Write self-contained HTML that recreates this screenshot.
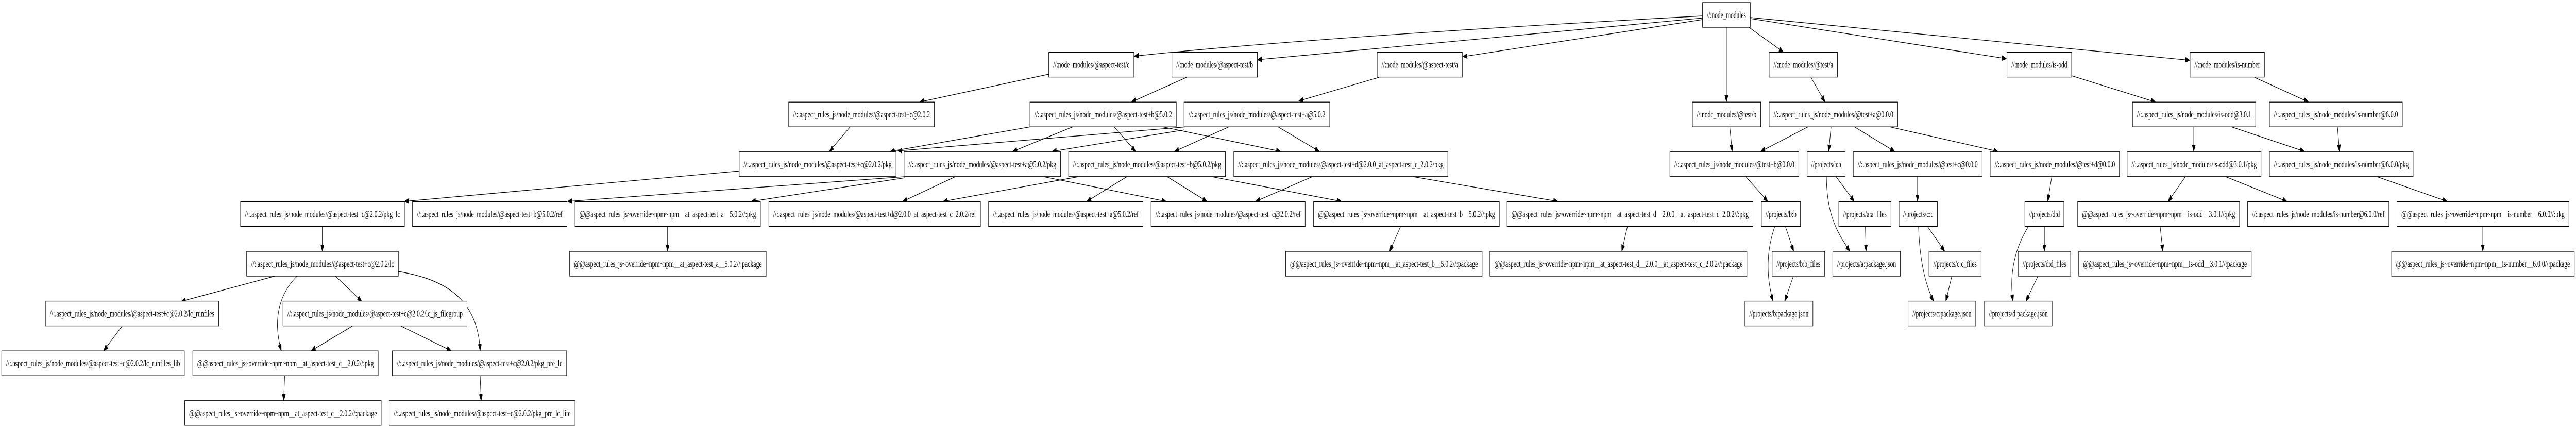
<!DOCTYPE html>
<html><head><meta charset="utf-8"><style>
html,body{margin:0;padding:0;background:#fff;overflow:hidden;width:100%;height:100%;}
svg{display:block;width:100vw;height:100vh;}
text{font-family:"Liberation Serif",serif;font-size:18px;fill:#000;}
rect{fill:#fff;stroke:#000;stroke-width:1.3;}
path,line{stroke:#000;stroke-width:1.3;fill:none;}
</style></head><body>
<svg viewBox="0 0 7656 827" preserveAspectRatio="none" xmlns="http://www.w3.org/2000/svg">
<defs><marker id="a" markerUnits="userSpaceOnUse" markerWidth="14" markerHeight="10" refX="13" refY="5" orient="auto"><path d="M0,0 L13,5 L0,10 Z" style="fill:#000;stroke:#000;stroke-width:1"/></marker></defs>
<g marker-end="url(#a)">
<path d="M5060,31 Q3900,72 3371,109"/>
<line x1="5060" y1="35" x2="3737" y2="116"/>
<line x1="5060" y1="38" x2="4348" y2="110"/>
<line x1="5131" y1="53" x2="5131" y2="198"/>
<line x1="5198" y1="53" x2="5300" y2="101"/>
<line x1="5202" y1="36" x2="5963" y2="114"/>
<line x1="5202" y1="34" x2="6508" y2="117"/>
<line x1="3117" y1="144" x2="2733" y2="198"/>
<line x1="3527" y1="150" x2="3363" y2="198"/>
<line x1="4099" y1="150" x2="3860" y2="196"/>
<line x1="2527" y1="246" x2="2465" y2="294"/>
<line x1="3064" y1="246" x2="2646" y2="294"/>
<line x1="3189" y1="246" x2="3010" y2="294"/>
<line x1="3311" y1="246" x2="3375" y2="294"/>
<line x1="3454" y1="246" x2="3806" y2="294"/>
<line x1="3529" y1="246" x2="2668" y2="293"/>
<line x1="3520" y1="252" x2="3127" y2="294"/>
<line x1="3653" y1="246" x2="3491" y2="294"/>
<line x1="3798" y1="246" x2="3921" y2="294"/>
<line x1="2197" y1="332" x2="1202" y2="391"/>
<line x1="2687" y1="343" x2="1687" y2="391"/>
<line x1="2690" y1="345" x2="2233" y2="391"/>
<line x1="2839" y1="343" x2="2683" y2="391"/>
<line x1="3102" y1="343" x2="3466" y2="391"/>
<line x1="3205" y1="343" x2="2803" y2="391"/>
<line x1="3349" y1="343" x2="3230" y2="391"/>
<line x1="3469" y1="343" x2="3587" y2="391"/>
<line x1="3602" y1="343" x2="3987" y2="391"/>
<line x1="3900" y1="343" x2="3732" y2="391"/>
<line x1="4200" y1="343" x2="4630" y2="391"/>
<line x1="5141" y1="246" x2="5148" y2="294"/>
<line x1="5189" y1="343" x2="5254" y2="391"/>
<line x1="5382" y1="150" x2="5424" y2="198"/>
<line x1="5374" y1="246" x2="5233" y2="294"/>
<line x1="5442" y1="246" x2="5435" y2="294"/>
<line x1="5511" y1="246" x2="5631" y2="294"/>
<line x1="5615" y1="246" x2="5938" y2="294"/>
<line x1="6157" y1="147" x2="6406" y2="198"/>
<line x1="6700" y1="150" x2="6861" y2="198"/>
<line x1="6520" y1="246" x2="6520" y2="294"/>
<line x1="6631" y1="246" x2="6849" y2="294"/>
<line x1="6947" y1="246" x2="6953" y2="294"/>
<line x1="5457" y1="343" x2="5511" y2="391"/>
<path d="M5428,343 C5430,420 5460,450 5498,488"/>
<line x1="5699" y1="343" x2="5699" y2="391"/>
<line x1="6098" y1="343" x2="6086" y2="391"/>
<line x1="6495" y1="343" x2="6444" y2="391"/>
<line x1="6615" y1="343" x2="6797" y2="391"/>
<line x1="7065" y1="343" x2="7273" y2="391"/>
<line x1="5306" y1="439" x2="5331" y2="488"/>
<path d="M5275,439 C5248,490 5250,540 5270,585"/>
<line x1="5544" y1="439" x2="5546" y2="488"/>
<line x1="5728" y1="439" x2="5780" y2="488"/>
<path d="M5702,439 C5705,500 5720,550 5747,585"/>
<line x1="6076" y1="439" x2="6076" y2="488"/>
<path d="M6029,439 C5990,480 5970,530 5983,585"/>
<line x1="5330" y1="536" x2="5304" y2="585"/>
<line x1="5801" y1="536" x2="5783" y2="585"/>
<line x1="6057" y1="536" x2="6021" y2="585"/>
<line x1="6420" y1="439" x2="6428" y2="488"/>
<line x1="7379" y1="439" x2="7379" y2="488"/>
<line x1="1984" y1="439" x2="1984" y2="488"/>
<line x1="4163" y1="439" x2="4130" y2="488"/>
<line x1="4837" y1="439" x2="4820" y2="488"/>
<line x1="958" y1="439" x2="958" y2="488"/>
<line x1="817" y1="536" x2="539" y2="585"/>
<path d="M883,536 C830,570 810,620 836,681"/>
<line x1="997" y1="536" x2="1075" y2="585"/>
<path d="M1184,527 C1300,540 1420,570 1427,681"/>
<line x1="363" y1="633" x2="308" y2="681"/>
<line x1="1047" y1="633" x2="925" y2="681"/>
<line x1="1192" y1="633" x2="1341" y2="681"/>
<line x1="846" y1="729" x2="843" y2="778"/>
<line x1="1427" y1="729" x2="1430" y2="778"/>
</g>
<g text-anchor="middle">
<rect x="5060" y="5" width="142" height="48"/><text x="5131" y="35" textLength="116" lengthAdjust="spacingAndGlyphs">//:node_modules</text>
<rect x="3117" y="101.6" width="253" height="48"/><text x="3243.5" y="131.6" textLength="227" lengthAdjust="spacingAndGlyphs">//:node_modules/@aspect-test/c</text>
<rect x="3483" y="101.6" width="254" height="48"/><text x="3610" y="131.6" textLength="228" lengthAdjust="spacingAndGlyphs">//:node_modules/@aspect-test/b</text>
<rect x="4093" y="101.6" width="253" height="48"/><text x="4219.5" y="131.6" textLength="227" lengthAdjust="spacingAndGlyphs">//:node_modules/@aspect-test/a</text>
<rect x="5258" y="101.6" width="203" height="48"/><text x="5359.5" y="131.6" textLength="177" lengthAdjust="spacingAndGlyphs">//:node_modules/@test/a</text>
<rect x="5965" y="101.6" width="192" height="48"/><text x="6061" y="131.6" textLength="166" lengthAdjust="spacingAndGlyphs">//:node_modules/is-odd</text>
<rect x="6509" y="101.6" width="221" height="48"/><text x="6619.5" y="131.6" textLength="195" lengthAdjust="spacingAndGlyphs">//:node_modules/is-number</text>
<rect x="2344" y="198.2" width="433" height="48"/><text x="2560.5" y="228.2" textLength="407" lengthAdjust="spacingAndGlyphs">//:.aspect_rules_js/node_modules/@aspect-test+c@2.0.2</text>
<rect x="3061" y="198.2" width="435" height="48"/><text x="3278.5" y="228.2" textLength="409" lengthAdjust="spacingAndGlyphs">//:.aspect_rules_js/node_modules/@aspect-test+b@5.0.2</text>
<rect x="3519" y="198.2" width="433" height="48"/><text x="3735.5" y="228.2" textLength="407" lengthAdjust="spacingAndGlyphs">//:.aspect_rules_js/node_modules/@aspect-test+a@5.0.2</text>
<rect x="5030" y="198.2" width="203" height="48"/><text x="5131.5" y="228.2" textLength="177" lengthAdjust="spacingAndGlyphs">//:node_modules/@test/b</text>
<rect x="5258" y="198.2" width="382" height="48"/><text x="5449" y="228.2" textLength="356" lengthAdjust="spacingAndGlyphs">//:.aspect_rules_js/node_modules/@test+a@0.0.0</text>
<rect x="6338" y="198.2" width="366" height="48"/><text x="6521" y="228.2" textLength="340" lengthAdjust="spacingAndGlyphs">//:.aspect_rules_js/node_modules/is-odd@3.0.1</text>
<rect x="6745" y="198.2" width="395" height="48"/><text x="6942.5" y="228.2" textLength="369" lengthAdjust="spacingAndGlyphs">//:.aspect_rules_js/node_modules/is-number@6.0.0</text>
<rect x="2197" y="294.8" width="466" height="48"/><text x="2430" y="324.8" textLength="440" lengthAdjust="spacingAndGlyphs">//:.aspect_rules_js/node_modules/@aspect-test+c@2.0.2/pkg</text>
<rect x="2687" y="294.8" width="465" height="48"/><text x="2919.5" y="324.8" textLength="439" lengthAdjust="spacingAndGlyphs">//:.aspect_rules_js/node_modules/@aspect-test+a@5.0.2/pkg</text>
<rect x="3176" y="294.8" width="466" height="48"/><text x="3409" y="324.8" textLength="440" lengthAdjust="spacingAndGlyphs">//:.aspect_rules_js/node_modules/@aspect-test+b@5.0.2/pkg</text>
<rect x="3667" y="294.8" width="636" height="48"/><text x="3985" y="324.8" textLength="610" lengthAdjust="spacingAndGlyphs">//:.aspect_rules_js/node_modules/@aspect-test+d@2.0.0_at_aspect-test_c_2.0.2/pkg</text>
<rect x="4963" y="294.8" width="383" height="48"/><text x="5154.5" y="324.8" textLength="357" lengthAdjust="spacingAndGlyphs">//:.aspect_rules_js/node_modules/@test+b@0.0.0</text>
<rect x="5371" y="294.8" width="113" height="48"/><text x="5427.5" y="324.8" textLength="89" lengthAdjust="spacingAndGlyphs">//projects/a:a</text>
<rect x="5508" y="294.8" width="383" height="48"/><text x="5699.5" y="324.8" textLength="357" lengthAdjust="spacingAndGlyphs">//:.aspect_rules_js/node_modules/@test+c@0.0.0</text>
<rect x="5915" y="294.8" width="384" height="48"/><text x="6107" y="324.8" textLength="358" lengthAdjust="spacingAndGlyphs">//:.aspect_rules_js/node_modules/@test+d@0.0.0</text>
<rect x="6322" y="294.8" width="398" height="48"/><text x="6521" y="324.8" textLength="372" lengthAdjust="spacingAndGlyphs">//:.aspect_rules_js/node_modules/is-odd@3.0.1/pkg</text>
<rect x="6745" y="294.8" width="427" height="48"/><text x="6958.5" y="324.8" textLength="401" lengthAdjust="spacingAndGlyphs">//:.aspect_rules_js/node_modules/is-number@6.0.0/pkg</text>
<rect x="715" y="391.4" width="487" height="48"/><text x="958.5" y="421.4" textLength="461" lengthAdjust="spacingAndGlyphs">//:.aspect_rules_js/node_modules/@aspect-test+c@2.0.2/pkg_lc</text>
<rect x="1226" y="391.4" width="459" height="48"/><text x="1455.5" y="421.4" textLength="433" lengthAdjust="spacingAndGlyphs">//:.aspect_rules_js/node_modules/@aspect-test+b@5.0.2/ref</text>
<rect x="1709" y="391.4" width="551" height="48"/><text x="1984.5" y="421.4" textLength="525" lengthAdjust="spacingAndGlyphs">@@aspect_rules_js~override~npm~npm__at_aspect-test_a__5.0.2//:pkg</text>
<rect x="2285" y="391.4" width="629" height="48"/><text x="2599.5" y="421.4" textLength="603" lengthAdjust="spacingAndGlyphs">//:.aspect_rules_js/node_modules/@aspect-test+d@2.0.0_at_aspect-test_c_2.0.2/ref</text>
<rect x="2938" y="391.4" width="459" height="48"/><text x="3167.5" y="421.4" textLength="433" lengthAdjust="spacingAndGlyphs">//:.aspect_rules_js/node_modules/@aspect-test+a@5.0.2/ref</text>
<rect x="3421" y="391.4" width="458" height="48"/><text x="3650" y="421.4" textLength="432" lengthAdjust="spacingAndGlyphs">//:.aspect_rules_js/node_modules/@aspect-test+c@2.0.2/ref</text>
<rect x="3904" y="391.4" width="552" height="48"/><text x="4180" y="421.4" textLength="526" lengthAdjust="spacingAndGlyphs">@@aspect_rules_js~override~npm~npm__at_aspect-test_b__5.0.2//:pkg</text>
<rect x="4479" y="391.4" width="731" height="48"/><text x="4844.5" y="421.4" textLength="705" lengthAdjust="spacingAndGlyphs">@@aspect_rules_js~override~npm~npm__at_aspect-test_d__2.0.0__at_aspect-test_c_2.0.2//:pkg</text>
<rect x="5235" y="391.4" width="116" height="48"/><text x="5293" y="421.4" textLength="92" lengthAdjust="spacingAndGlyphs">//projects/b:b</text>
<rect x="5465" y="391.4" width="155" height="48"/><text x="5542.5" y="421.4" textLength="129" lengthAdjust="spacingAndGlyphs">//projects/a:a_files</text>
<rect x="5644" y="391.4" width="114" height="48"/><text x="5701" y="421.4" textLength="90" lengthAdjust="spacingAndGlyphs">//projects/c:c</text>
<rect x="6018" y="391.4" width="116" height="48"/><text x="6076" y="421.4" textLength="92" lengthAdjust="spacingAndGlyphs">//projects/d:d</text>
<rect x="6175" y="391.4" width="481" height="48"/><text x="6415.5" y="421.4" textLength="455" lengthAdjust="spacingAndGlyphs">@@aspect_rules_js~override~npm~npm__is-odd__3.0.1//:pkg</text>
<rect x="6680" y="391.4" width="420" height="48"/><text x="6890" y="421.4" textLength="394" lengthAdjust="spacingAndGlyphs">//:.aspect_rules_js/node_modules/is-number@6.0.0/ref</text>
<rect x="7124" y="391.4" width="511" height="48"/><text x="7379.5" y="421.4" textLength="485" lengthAdjust="spacingAndGlyphs">@@aspect_rules_js~override~npm~npm__is-number__6.0.0//:pkg</text>
<rect x="733" y="488" width="451" height="48"/><text x="958.5" y="518" textLength="425" lengthAdjust="spacingAndGlyphs">//:.aspect_rules_js/node_modules/@aspect-test+c@2.0.2/lc</text>
<rect x="1693" y="488" width="584" height="48"/><text x="1985" y="518" textLength="558" lengthAdjust="spacingAndGlyphs">@@aspect_rules_js~override~npm~npm__at_aspect-test_a__5.0.2//:package</text>
<rect x="3821" y="488" width="584" height="48"/><text x="4113" y="518" textLength="558" lengthAdjust="spacingAndGlyphs">@@aspect_rules_js~override~npm~npm__at_aspect-test_b__5.0.2//:package</text>
<rect x="4428" y="488" width="764" height="48"/><text x="4810" y="518" textLength="738" lengthAdjust="spacingAndGlyphs">@@aspect_rules_js~override~npm~npm__at_aspect-test_d__2.0.0__at_aspect-test_c_2.0.2//:package</text>
<rect x="5267" y="488" width="156" height="48"/><text x="5345" y="518" textLength="130" lengthAdjust="spacingAndGlyphs">//projects/b:b_files</text>
<rect x="5447" y="488" width="201" height="48"/><text x="5547.5" y="518" textLength="175" lengthAdjust="spacingAndGlyphs">//projects/a:package.json</text>
<rect x="5733" y="488" width="155" height="48"/><text x="5810.5" y="518" textLength="129" lengthAdjust="spacingAndGlyphs">//projects/c:c_files</text>
<rect x="5998" y="488" width="156" height="48"/><text x="6076" y="518" textLength="130" lengthAdjust="spacingAndGlyphs">//projects/d:d_files</text>
<rect x="6178" y="488" width="513" height="48"/><text x="6434.5" y="518" textLength="487" lengthAdjust="spacingAndGlyphs">@@aspect_rules_js~override~npm~npm__is-odd__3.0.1//:package</text>
<rect x="7108" y="488" width="543" height="48"/><text x="7379.5" y="518" textLength="517" lengthAdjust="spacingAndGlyphs">@@aspect_rules_js~override~npm~npm__is-number__6.0.0//:package</text>
<rect x="135" y="584.6" width="515" height="48"/><text x="392.5" y="614.6" textLength="489" lengthAdjust="spacingAndGlyphs">//:.aspect_rules_js/node_modules/@aspect-test+c@2.0.2/lc_runfiles</text>
<rect x="841" y="584.6" width="547" height="48"/><text x="1114.5" y="614.6" textLength="521" lengthAdjust="spacingAndGlyphs">//:.aspect_rules_js/node_modules/@aspect-test+c@2.0.2/lc_js_filegroup</text>
<rect x="5186" y="584.6" width="202" height="48"/><text x="5287" y="614.6" textLength="176" lengthAdjust="spacingAndGlyphs">//projects/b:package.json</text>
<rect x="5671" y="584.6" width="201" height="48"/><text x="5771.5" y="614.6" textLength="175" lengthAdjust="spacingAndGlyphs">//projects/c:package.json</text>
<rect x="5898" y="584.6" width="201" height="48"/><text x="5998.5" y="614.6" textLength="175" lengthAdjust="spacingAndGlyphs">//projects/d:package.json</text>
<rect x="5" y="681.2" width="543" height="48"/><text x="276.5" y="711.2" textLength="517" lengthAdjust="spacingAndGlyphs">//:.aspect_rules_js/node_modules/@aspect-test+c@2.0.2/lc_runfiles_lib</text>
<rect x="573" y="681.2" width="551" height="48"/><text x="848.5" y="711.2" textLength="525" lengthAdjust="spacingAndGlyphs">@@aspect_rules_js~override~npm~npm__at_aspect-test_c__2.0.2//:pkg</text>
<rect x="1166" y="681.2" width="518" height="48"/><text x="1425" y="711.2" textLength="492" lengthAdjust="spacingAndGlyphs">//:.aspect_rules_js/node_modules/@aspect-test+c@2.0.2/pkg_pre_lc</text>
<rect x="549" y="777.8" width="584" height="48"/><text x="841" y="807.8" textLength="558" lengthAdjust="spacingAndGlyphs">@@aspect_rules_js~override~npm~npm__at_aspect-test_c__2.0.2//:package</text>
<rect x="1157" y="777.8" width="552" height="48"/><text x="1433" y="807.8" textLength="526" lengthAdjust="spacingAndGlyphs">//:.aspect_rules_js/node_modules/@aspect-test+c@2.0.2/pkg_pre_lc_lite</text>
</g>
</svg>
</body></html>
